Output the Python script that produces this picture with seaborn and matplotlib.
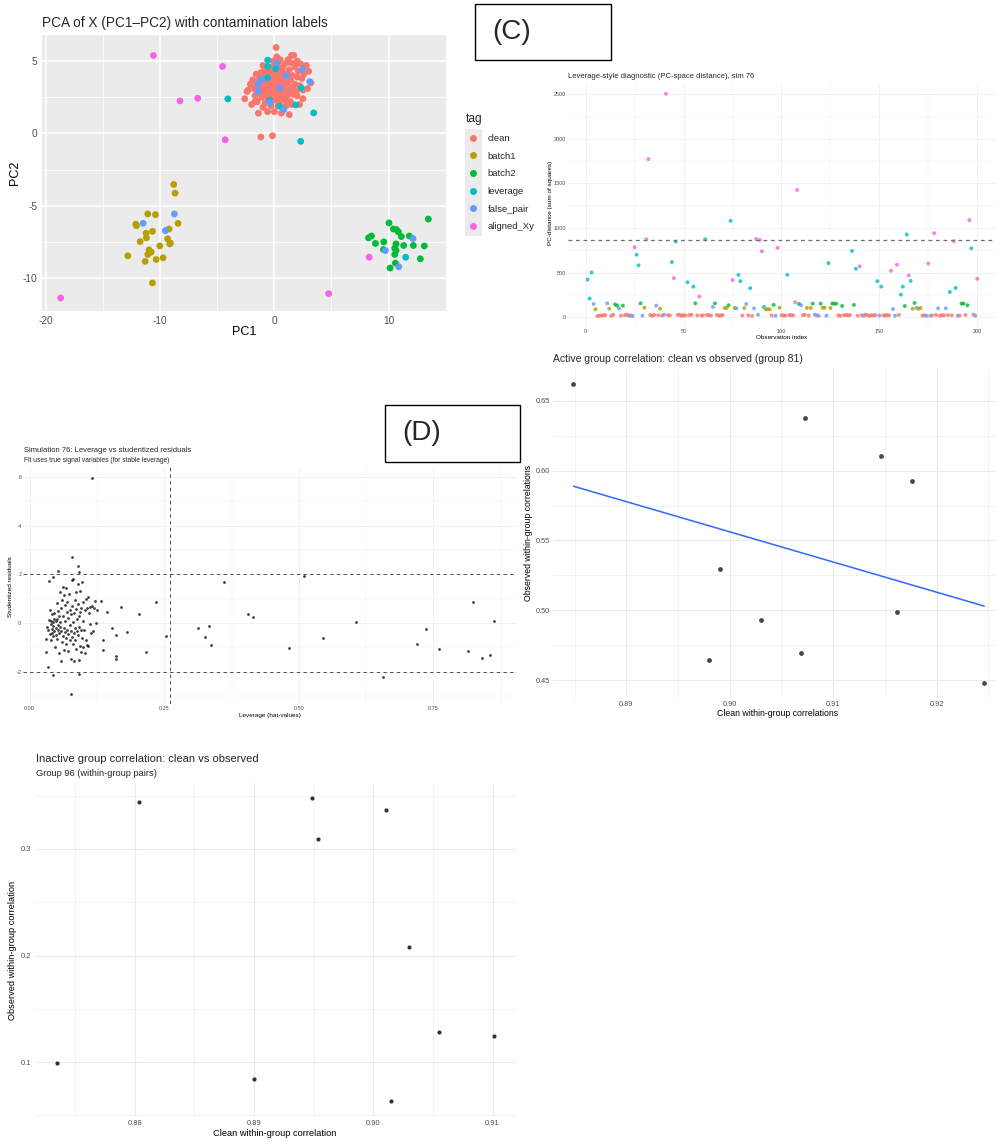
import matplotlib
matplotlib.use('Agg')
import matplotlib.pyplot as plt
from matplotlib.lines import Line2D
from matplotlib.patches import Rectangle
import pandas as pd
import seaborn as sns

sns.set_theme(style='white')
plt.rcParams['font.family'] = ['Liberation Sans', 'DejaVu Sans']
plt.rcParams['axes.unicode_minus'] = False

W, H = 996, 1144

tags = ['clean', 'batch1', 'batch2', 'leverage', 'false_pair', 'aligned_Xy']
tag_colors = ['#F8766D', '#B79F00', '#00BA38', '#00BFC4', '#619CFF', '#F564E3']

# ---------------- panel A: PCA scores ----------------
pca_clean_x = [-2.6, -2.4, -2.3, -2.0, -1.9, -1.8, -1.7, -1.6, -1.5, -1.5, -1.4, -1.3,
               -1.3, -1.2, -1.2, -1.1, -1.0, -1.0, -0.9, -0.9, -0.8, -0.8, -0.7, -0.7,
               -0.6, -0.6, -0.5, -0.5, -0.4, -0.4, -0.3, -0.3, -0.2, -0.2, -0.1, -0.1,
               0.0, 0.0, 0.0, 0.1, 0.1, 0.15, 0.2, 0.2, 0.3, 0.3, 0.3, 0.4, 0.4, 0.5,
               0.5, 0.5, 0.6, 0.6, 0.7, 0.7, 0.8, 0.8, 0.9, 0.9, 1.0, 1.0, 1.1, 1.1,
               1.2, 1.2, 1.3, 1.3, 1.4, 1.4, 1.5, 1.5, 1.6, 1.6, 1.7, 1.8, 1.8, 1.9,
               2.0, 2.0, 2.1, 2.2, 2.2, 2.3, 2.4, 2.5, 2.5, 2.6, 2.8, 2.9, 3.0, 3.2,
               -1.19, -0.17, -2.1, -1.6, 0.2, 0.6, 1.0, -0.6, 1.4, -0.2, 0.8, 1.7,
               -1.0, 0.4, -1.4, 2.0, 0.0, 0.7, 1.2, -0.4, 1.9, -0.9, 1.5, 0.3, -1.7]
pca_clean_y = [2.4, 2.9, 3.0, 2.0, 3.7, 3.1, 2.6, 4.1, 3.4, 2.2, 1.4, 3.9,
               2.8, 4.2, 3.2, 2.5, 3.6, 1.8, 4.3, 2.9, 3.3, 2.1, 4.0, 2.6,
               3.5, 1.5, 4.4, 3.0, 2.4, 3.8, 1.9, 4.1, 3.2, 2.7, 5.0, 3.6,
               4.3, 2.3, 1.5, 3.9, 2.9, 5.94, 3.4, 5.3, 4.6, 2.5, 1.9, 3.0, 4.0, 3.6,
               2.2, 5.1, 3.3, 1.4, 4.5, 2.8, 3.8, 2.4, 4.8, 3.1, 1.9, 4.1, 3.5, 2.6,
               5.1, 3.0, 4.4, 1.3, 3.7, 2.2, 5.4, 3.2, 4.0, 2.7, 5.4, 4.6, 3.4, 2.9,
               5.0, 3.9, 4.3, 3.3, 2.0, 4.8, 3.8, 2.4, 3.0, 4.1, 4.7, 3.1, 4.3, 3.5,
               -0.25, -0.16, 3.4, 3.0, 3.8, 4.2, 2.3, 2.2, 4.9, 4.6, 1.7, 3.0,
               4.7, 2.7, 3.6, 2.6, 3.0, 3.6, 4.0, 3.4, 4.9, 3.9, 2.0, 4.9, 2.2]
pca_batch1_x = [-8.82, -8.70, -8.44, -11.09, -10.42, -12.14, -12.08, -10.68, -11.24,
                -11.21, -11.76, -9.23, -9.35, -9.17, -10.04, -10.98, -10.80, -11.09,
                -12.84, -9.75, -10.36, -11.32, -10.68, -9.11]
pca_batch1_y = [-3.53, -4.13, -6.22, -5.57, -5.62, -6.28, -6.38, -6.77, -6.90,
                -7.22, -7.48, -6.61, -7.29, -7.64, -7.78, -8.05, -8.21, -8.37,
                -8.46, -8.60, -8.72, -8.85, -10.34, -7.59]
pca_batch2_x = [13.48, 10.04, 10.42, 10.68, 10.86, 8.50, 8.24, 11.82, 11.12, 9.58, 8.85,
                10.65, 10.54, 11.32, 12.17, 13.13, 9.55, 10.65, 10.54, 12.78, 10.60, 10.13]
pca_batch2_y = [-5.92, -6.19, -6.61, -6.65, -6.81, -7.09, -7.22, -7.09, -7.13, -7.50, -7.61,
                -7.64, -7.94, -7.75, -7.75, -7.78, -8.03, -8.10, -8.37, -8.67, -8.97, -9.31]
pca_leverage_x = [-4.08, -0.59, -0.59, 0.12, -0.61, 3.44, 1.86, 2.36, 2.30, -0.41, 0.46, 11.5]
pca_leverage_y = [2.39, 5.07, 4.63, 4.47, 3.85, 1.42, 1.97, 3.14, -0.55, 2.27, 1.88, -8.56]
pca_false_x = [2.45, 3.09, -1.43, -1.43, -1.16, 0.82, -0.38, 0.47, 1.05, 0.2,
               -11.5, -8.76, -9.55, 12.14, 9.72, 10.89]
pca_false_y = [4.43, 3.58, 3.44, 2.91, 3.72, 1.65, 2.11, 3.14, 3.99, 4.86,
               -6.22, -5.57, -6.72, -7.27, -8.10, -9.22]
pca_aligned_x = [-10.6, -4.54, -8.27, -6.72, -4.31, -18.72, 4.75, 8.30]
pca_aligned_y = [5.39, 4.63, 2.25, 2.43, -0.44, -11.38, -11.08, -8.56]

pca_xticks = [-20, -10, 0, 10]
pca_xticklabels = ['-20', '-10', '0', '10']
pca_yticks = [-10, -5, 0, 5]
pca_yticklabels = ['-10', '-5', '0', '5']

# ---------------- panel C: PC-space distance by observation ----------------
dist_clean_obs = [6, 7, 8, 9, 10, 13, 14, 18, 20, 21, 23, 33, 34, 35, 37, 39, 42, 43,
                  47, 48, 49, 50, 51, 53, 54, 57, 59, 60, 62, 63, 64, 67, 68, 69, 70,
                  80, 83, 85, 95, 100, 101, 102, 104, 105, 106, 111, 112, 114, 118,
                  129, 130, 132, 133, 134, 135, 139, 141, 143, 144, 145, 146, 147,
                  148, 152, 153, 154, 155, 160, 172, 173, 177, 179, 181, 182, 183,
                  185, 187, 191, 194, 198]
dist_clean_val = [12, 15, 18, 20, 22, 14, 25, 16, 20, 28, 18, 22, 15, 24, 20, 17, 21, 19,
                  23, 26, 14, 20, 18, 22, 25, 19, 16, 21, 24, 20, 18, 23, 15, 19, 22,
                  17, 20, 14, 18, 21, 19, 16, 23, 20, 18, 22, 25, 17, 20, 19, 15, 21,
                  24, 18, 22, 16, 20, 27, 19, 14, 21, 18, 23, 20, 17, 22, 19, 25, 16,
                  20, 18, 24, 15, 21, 19, 22, 20, 17, 23, 28]
dist_batch1_obs = [5, 12, 30, 38, 71, 72, 76, 81, 92, 93, 94, 99, 113, 115, 121, 122,
                   125, 167, 170, 171]
dist_batch1_val = [87, 94, 105, 94, 102, 102, 102, 102, 87, 87, 87, 105, 102, 102, 105,
                   105, 102, 94, 94, 102]
dist_batch2_obs = [15, 16, 19, 28, 56, 66, 73, 96, 109, 116, 120, 126, 127, 128, 131,
                   137, 163, 168, 192, 193, 195]
dist_batch2_val = [143, 128, 128, 154, 154, 154, 132, 136, 147, 151, 151, 151, 151, 151,
                   124, 136, 124, 158, 151, 151, 132]
dist_leverage_obs = [1, 2, 3, 26, 27, 44, 46, 52, 55, 61, 74, 78, 79, 84, 91, 103, 124,
                     136, 138, 149, 151, 161, 162, 164, 166, 186, 189, 197]
dist_leverage_val = [421, 207, 500, 700, 580, 617, 847, 391, 342, 873, 1080, 474, 403,
                     324, 113, 474, 606, 742, 542, 403, 342, 252, 342, 926, 407, 282,
                     327, 772]
dist_false_obs = [4, 11, 17, 22, 24, 29, 36, 40, 65, 77, 82, 86, 88, 97, 110, 117, 119,
                  123, 142, 150, 157, 158, 169, 174, 176, 180, 184, 190, 199]
dist_false_val = [147, 154, 98, 15, 12, 15, 128, 26, 113, 98, 147, 98, 26, 15, 132, 26,
                  15, 15, 15, 18, 90, 15, 102, 15, 15, 98, 98, 15, 15]
dist_aligned_obs = [25, 31, 32, 41, 45, 58, 75, 87, 89, 90, 98, 107, 108, 140, 156, 159,
                    165, 175, 178, 188, 196, 200]
dist_aligned_val = [783, 873, 1773, 2507, 437, 230, 414, 877, 866, 738, 776, 166, 1427,
                    569, 520, 587, 467, 602, 941, 851, 1088, 429]
dist_threshold = 870

dist_xticks = [0, 50, 100, 150, 200]
dist_xticklabels = ['0', '50', '100', '150', '200']
dist_yticks = [0, 500, 1000, 1500, 2000, 2500]
dist_yticklabels = ['0', '500', '1000', '1500', '2000', '2500']

# ---------------- panel D: leverage vs studentized residuals ----------------
hat_values = [0.030, 0.031, 0.034, 0.036, 0.043, 0.043, 0.053, 0.079, 0.089, 0.092, 0.091, 0.077,
              0.033, 0.034, 0.036, 0.037, 0.038, 0.039, 0.040, 0.040, 0.041, 0.042, 0.042, 0.043,
              0.044, 0.044, 0.045, 0.046, 0.046, 0.047, 0.048, 0.048, 0.049, 0.050, 0.050, 0.051,
              0.052, 0.052, 0.053, 0.054, 0.054, 0.055, 0.056, 0.056, 0.057, 0.058, 0.058, 0.059,
              0.060, 0.060, 0.061, 0.062, 0.062, 0.063, 0.064, 0.064, 0.065, 0.066, 0.066, 0.067,
              0.068, 0.068, 0.069, 0.070, 0.070, 0.071, 0.072, 0.072, 0.073, 0.074, 0.074, 0.075,
              0.076, 0.076, 0.077, 0.078, 0.078, 0.079, 0.080, 0.080, 0.081, 0.082, 0.082, 0.083,
              0.084, 0.084, 0.085, 0.086, 0.086, 0.087, 0.088, 0.088, 0.089, 0.089, 0.090, 0.091,
              0.091, 0.092, 0.093, 0.093, 0.094, 0.095, 0.096, 0.096, 0.097, 0.098, 0.099, 0.100,
              0.100, 0.101, 0.102, 0.103, 0.104, 0.105, 0.106, 0.107, 0.108, 0.109, 0.110, 0.112,
              0.113, 0.114, 0.116, 0.118, 0.120, 0.122, 0.124, 0.126,
              0.115, 0.234, 0.204, 0.216, 0.254, 0.170, 0.181, 0.153, 0.160, 0.160, 0.160, 0.143,
              0.132, 0.136, 0.136, 0.361, 0.312, 0.334, 0.325, 0.337, 0.406, 0.414, 0.481, 0.509,
              0.545, 0.607, 0.657, 0.720, 0.736, 0.760, 0.815, 0.824, 0.841, 0.856, 0.863]
stud_resid = [-0.64, -1.19, -1.82, 1.74, 1.90, -2.15, 2.12, 2.71, 2.36, 2.11, -2.10, -2.90,
              -0.15, -0.28, 0.12, -0.45, 0.53, -0.05, 0.10, -0.70, -0.25, 0.35, -0.42, 0.05,
              -0.12, -0.55, 0.18, -0.33, 0.42, -0.98, 0.08, -0.20, -0.48, 0.15, -0.65, 0.82,
              -0.30, 0.48, -0.08, -1.25, 0.27, -0.40, 1.28, -0.15, 0.02, -1.55, 0.62, -0.35,
              0.95, -0.78, 1.48, 0.30, -0.52, -0.20, 1.15, -1.10, 0.72, -0.38, 0.10, -0.62,
              1.42, -0.85, 0.45, -0.28, 0.88, -1.15, 0.20, -0.45, 1.20, -0.72, 0.55, -0.10,
              -1.48, 0.35, -0.32, 1.78, -0.58, 0.68, -0.88, 0.05, 1.80, -0.40, 0.42, -1.58,
              0.95, -0.22, -0.70, 0.58, -1.05, 1.28, -0.35, 0.15, 1.62, -0.50, 0.78, -1.52,
              0.30, -0.15, 1.30, -0.95, 0.45, -0.30, -1.20, 0.62, 1.68, -0.62, 0.10, -1.00,
              0.85, -0.28, -1.25, 0.55, 0.98, -0.72, -0.90, 0.60, 1.05, -0.95, 0.42, -0.05,
              0.65, -0.40, 0.68, -0.35, 0.62, 0.92, -0.02, 0.55,
              5.95, 0.88, 0.36, -1.19, -0.55, 0.64, -0.38, -0.21, -0.51, -1.36, -1.49, 0.44,
              0.92, -0.68, -1.11, 1.67, -0.22, -0.12, -0.59, -0.92, 0.36, 0.25, -1.03, 1.95,
              -0.60, 0.03, -2.23, -0.86, -0.25, -1.08, -1.16, 0.86, -1.45, -1.32, 0.10]
hat_cutoff = 0.26
resid_cutoffs = [-2, 2]

hat_xticks = [0, 0.25, 0.5, 0.75]
hat_xticklabels = ['0.00', '0.25', '0.50', '0.75']
hat_yticks = [-2, 0, 2, 4, 6]
hat_yticklabels = ['-2', '0', '2', '4', '6']

# ---------------- panel E: active group 81 ----------------
active_clean = [0.8849, 0.9073, 0.9146, 0.9176, 0.8991, 0.9030, 0.9162, 0.8980, 0.9069, 0.9246]
active_obs = [0.6622, 0.6376, 0.6104, 0.5923, 0.5296, 0.4929, 0.4989, 0.4645, 0.4693, 0.4483]
active_xticks = [0.89, 0.90, 0.91, 0.92]
active_xticklabels = ['0.89', '0.90', '0.91', '0.92']
active_yticks = [0.45, 0.50, 0.55, 0.60, 0.65]
active_yticklabels = ['0.45', '0.50', '0.55', '0.60', '0.65']

# ---------------- panel F: inactive group 96 ----------------
inactive_clean = [0.8735, 0.8804, 0.8949, 0.8954, 0.9011, 0.9030, 0.9055, 0.9101, 0.8900, 0.9015]
inactive_obs = [0.0991, 0.3444, 0.3479, 0.3094, 0.3363, 0.2078, 0.1285, 0.1244, 0.0840, 0.0631]
inactive_xticks = [0.88, 0.89, 0.90, 0.91]
inactive_xticklabels = ['0.88', '0.89', '0.90', '0.91']
inactive_yticks = [0.1, 0.2, 0.3]
inactive_yticklabels = ['0.1', '0.2', '0.3']


fig = plt.figure(figsize=(W / 100, H / 100), dpi=100)


def make_ax(l, t, r, b):
    ax = fig.add_axes([l / W, 1 - b / H, (r - l) / W, (b - t) / H])
    ax.px_box = (l, t, r, b)
    return ax


def ftext(x, y, s, **kw):
    fig.text(x / W, 1 - y / H, s, **kw)


def axis_title(ax, which, text, x, y, size):
    l, t, r, b = ax.px_box
    ax_x = (x - l) / (r - l)
    ax_y = (b - y) / (b - t)
    if which == 'x':
        ax.set_xlabel(text, fontsize=size, color='black')
        ax.xaxis.set_label_coords(ax_x, ax_y)
        ax.xaxis.label.set_va('center')
    else:
        ax.set_ylabel(text, fontsize=size, color='black')
        ax.yaxis.set_label_coords(ax_x, ax_y)
        ax.yaxis.label.set_va('center')


def ticks(ax, xt, xl, xm, yt, yl, ym, size, pad):
    ax.set_xticks(xt)
    ax.set_xticklabels(xl)
    ax.set_xticks(xm, minor=True)
    ax.set_yticks(yt)
    ax.set_yticklabels(yl)
    ax.set_yticks(ym, minor=True)
    ax.tick_params(which='both', labelsize=size, labelcolor='#4D4D4D', pad=pad)


def minimal(ax, lw):
    ax.set_facecolor('white')
    ax.grid(True, which='major', color='#EBEBEB', lw=lw)
    ax.grid(True, which='minor', color='#EBEBEB', lw=lw / 2)
    ax.tick_params(which='both', length=0)
    for s in ax.spines.values():
        s.set_visible(False)
    ax.set_axisbelow(True)


# ---- A ----
pca_df = pd.concat([
    pd.DataFrame({'PC1': pca_clean_x, 'PC2': pca_clean_y, 'tag': 'clean'}),
    pd.DataFrame({'PC1': pca_batch1_x, 'PC2': pca_batch1_y, 'tag': 'batch1'}),
    pd.DataFrame({'PC1': pca_batch2_x, 'PC2': pca_batch2_y, 'tag': 'batch2'}),
    pd.DataFrame({'PC1': pca_leverage_x, 'PC2': pca_leverage_y, 'tag': 'leverage'}),
    pd.DataFrame({'PC1': pca_false_x, 'PC2': pca_false_y, 'tag': 'false_pair'}),
    pd.DataFrame({'PC1': pca_aligned_x, 'PC2': pca_aligned_y, 'tag': 'aligned_Xy'}),
], ignore_index=True)

ax_a = make_ax(42.3, 35, 446.7, 310.5)
sns.scatterplot(data=pca_df, x='PC1', y='PC2', hue='tag', hue_order=tags,
                palette=tag_colors, s=24, linewidth=0, ax=ax_a, legend=False)
ax_a.set_facecolor('#EBEBEB')
ax_a.grid(True, which='major', color='white', lw=1.1)
ax_a.grid(True, which='minor', color='white', lw=0.55)
ax_a.set_axisbelow(True)
for s in ax_a.spines.values():
    s.set_visible(False)
ticks(ax_a, pca_xticks, pca_xticklabels, [-15, -5, 5, 15],
      pca_yticks, pca_yticklabels, [-7.5, -2.5, 2.5], 7.3, 1.5)
ax_a.tick_params(which='major', length=2.2, width=0.5, color='#333333')
ax_a.tick_params(which='minor', length=0)
axis_title(ax_a, 'x', 'PC1', 244.5, 332, 9.0)
axis_title(ax_a, 'y', 'PC2', 15, 173, 9.0)
ftext(42.3, 22.7, 'PCA of X (PC1\u2013PC2) with contamination labels',
      fontsize=9.8, va='center', ha='left')

# legend for tag
fig.add_artist(Rectangle((465 / W, 1 - 236 / H), 17 / W, 107 / H,
                         transform=fig.transFigure, facecolor='#EBEBEB',
                         edgecolor='none', zorder=0))
handles = [Line2D([], [], marker='o', ls='', markersize=5, color=c, markeredgewidth=0)
           for c in tag_colors]
leg = fig.legend(handles, tags, title='tag', loc='upper left',
                 bbox_to_anchor=(462 / W, 1 - 109.5 / H), frameon=False,
                 fontsize=6.8, title_fontsize=8.6, labelspacing=0.92,
                 handlelength=1.6, handletextpad=0.7, borderaxespad=0,
                 alignment='left')

# ---- C ----
dist_df = pd.concat([
    pd.DataFrame({'obs': dist_clean_obs, 'dist': dist_clean_val, 'tag': 'clean'}),
    pd.DataFrame({'obs': dist_batch1_obs, 'dist': dist_batch1_val, 'tag': 'batch1'}),
    pd.DataFrame({'obs': dist_batch2_obs, 'dist': dist_batch2_val, 'tag': 'batch2'}),
    pd.DataFrame({'obs': dist_leverage_obs, 'dist': dist_leverage_val, 'tag': 'leverage'}),
    pd.DataFrame({'obs': dist_false_obs, 'dist': dist_false_val, 'tag': 'false_pair'}),
    pd.DataFrame({'obs': dist_aligned_obs, 'dist': dist_aligned_val, 'tag': 'aligned_Xy'}),
], ignore_index=True).sort_values('obs')

ax_c = make_ax(568.1, 82.6, 996, 327.1)
minimal(ax_c, 0.5)
sns.scatterplot(data=dist_df, x='obs', y='dist', hue='tag', hue_order=tags,
                palette=tag_colors, s=8, linewidth=0, alpha=0.8, ax=ax_c, legend=False)
ax_c.axhline(dist_threshold, color='#6E6E6E', lw=0.9, ls=(0, (3, 3)))
ax_c.set_xlim(-9, 209.6)
ticks(ax_c, dist_xticks, dist_xticklabels, [25, 75, 125, 175],
      dist_yticks, dist_yticklabels, [250, 750, 1250, 1750, 2250], 4.0, 1.5)
axis_title(ax_c, 'x', 'Observation index', 782, 337.5, 4.6)
axis_title(ax_c, 'y', 'PC-distance (sum of squares)', 550, 203, 4.6)
ftext(568.3, 76, 'Leverage-style diagnostic (PC-space distance), sim 76',
      fontsize=5.5, va='center', ha='left')

# ---- D ----
ax_d = make_ax(23.4, 467.4, 516.6, 704.3)
minimal(ax_d, 0.5)
sns.scatterplot(x=hat_values, y=stud_resid, color='black', s=4, linewidth=0,
                alpha=0.75, ax=ax_d)
for c in resid_cutoffs:
    ax_d.axhline(c, color='#333333', lw=0.6, ls=(0, (4, 4)))
ax_d.axvline(hat_cutoff, color='#333333', lw=0.6, ls=(0, (4, 4)))
ticks(ax_d, hat_xticks, hat_xticklabels, [0.125, 0.375, 0.625, 0.875],
      hat_yticks, hat_yticklabels, [-3, -1, 1, 3, 5], 4.0, 1.5)
axis_title(ax_d, 'x', 'Leverage (hat-values)', 270, 716, 4.6)
axis_title(ax_d, 'y', 'Studentized residuals', 10.5, 587, 4.6)
ftext(24, 451, 'Simulation 76: Leverage vs studentized residuals',
      fontsize=5.5, va='center', ha='left')
ftext(24, 461, 'Fit uses true signal variables (for stable leverage)',
      fontsize=4.8, va='center', ha='left')

# ---- E ----
ax_e = make_ax(552.8, 368.7, 1005, 697.6)
minimal(ax_e, 0.8)
sns.regplot(x=active_clean, y=active_obs, ci=None, ax=ax_e,
            scatter_kws=dict(s=12, color='#1A1A1A', linewidths=0),
            line_kws=dict(color='#3366FF', lw=1.1))
ticks(ax_e, active_xticks, active_xticklabels, [0.885, 0.895, 0.905, 0.915, 0.925],
      active_yticks, active_yticklabels, [0.475, 0.525, 0.575, 0.625], 5.3, 2.2)
ax_e.set_xlim(0.8829, 0.9266)
ax_e.set_ylim(0.4376, 0.6729)
axis_title(ax_e, 'x', 'Clean within-group correlations', 778, 713.7, 6.3)
axis_title(ax_e, 'y', 'Observed within-group correlations', 528, 533, 6.3)
ftext(553, 358.7, 'Active group correlation: clean vs observed (group 81)',
      fontsize=7.5, va='center', ha='left')

# ---- F ----
ax_f = make_ax(35.3, 782.8, 515.6, 1116.5)
minimal(ax_f, 0.8)
sns.scatterplot(x=inactive_clean, y=inactive_obs, color='#333333', s=9,
                linewidth=0, ax=ax_f)
ticks(ax_f, inactive_xticks, inactive_xticklabels, [0.875, 0.885, 0.895, 0.905],
      inactive_yticks, inactive_yticklabels, [0.05, 0.15, 0.25, 0.35], 5.4, 2.8)
axis_title(ax_f, 'x', 'Clean within-group correlation', 275, 1134, 6.7)
axis_title(ax_f, 'y', 'Observed within-group correlation', 13, 950, 6.7)
ftext(35.5, 759, 'Inactive group correlation: clean vs observed',
      fontsize=8.0, va='center', ha='left')
ftext(35.5, 773.7, 'Group 96 (within-group pairs)',
      fontsize=6.7, va='center', ha='left')

# ---- panel tags ----
for (l, t, r, b), label, tx, ty in [((475, 4, 611, 60), '(C)', 492, 32),
                                    ((385, 405, 520, 462), '(D)', 402, 433)]:
    fig.add_artist(Rectangle((l / W, 1 - b / H), (r - l) / W, (b - t) / H,
                             transform=fig.transFigure, fill=False,
                             edgecolor='black', lw=1.0))
    ftext(tx, ty, label, fontsize=20, va='center', ha='left')

fig.savefig('out.png', dpi=100)
